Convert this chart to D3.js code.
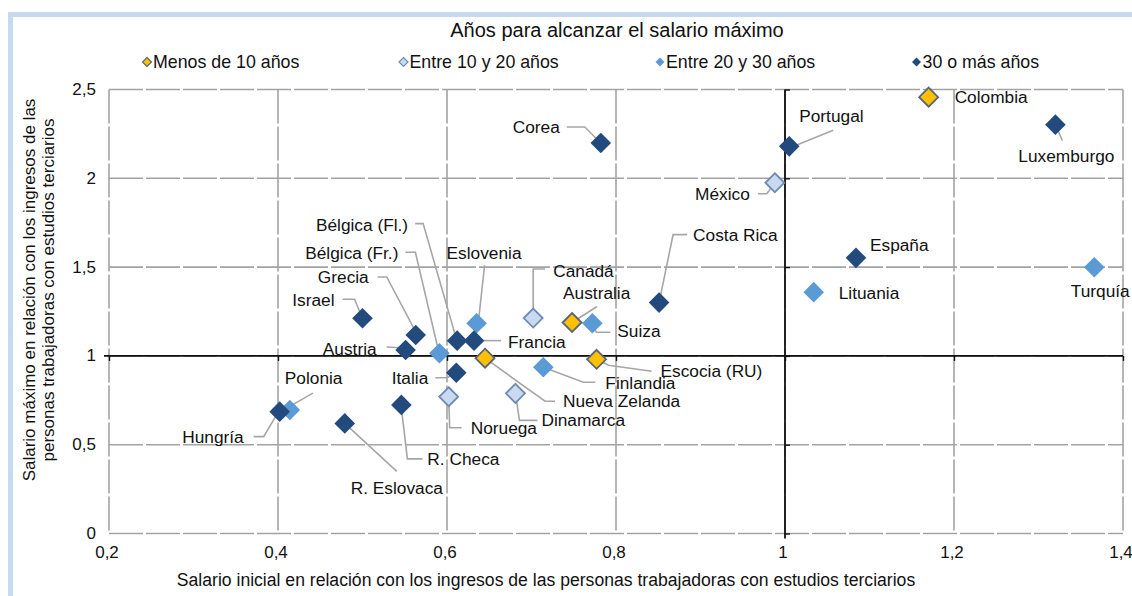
<!DOCTYPE html>
<html>
<head>
<meta charset="utf-8">
<script src="https://d3js.org/d3.v7.min.js"></script>
<style>
  body { margin: 0; background: #fff; }
  svg text { font-family: "Liberation Sans", Arial, sans-serif; fill: #111; }
</style>
</head>
<body>
<svg id="chart" width="1132" height="596"></svg>
<script>
// data
var countries = ['Colombia', 'Luxemburgo', 'Portugal', 'México', 'Corea', 'Costa Rica', 'España', 'Lituania', 'Turquía',
  'Canadá', 'Australia', 'Suiza', 'Escocia (RU)', 'Finlandia', 'Nueva Zelanda', 'Dinamarca', 'Noruega', 'Italia',
  'Francia', 'Eslovenia', 'Bélgica (Fl.)', 'Bélgica (Fr.)', 'Grecia', 'Israel', 'Austria', 'Polonia', 'Hungría',
  'R. Checa', 'R. Eslovaca'];
var startRatio = [1.17, 1.32, 1.005, 0.988, 0.782, 0.851, 1.084, 1.034, 1.366,
  0.702, 0.748, 0.772, 0.777, 0.714, 0.645, 0.681, 0.602, 0.611,
  0.632, 0.635, 0.612, 0.591, 0.563, 0.50, 0.551, 0.414, 0.402,
  0.546, 0.479];
var maxRatio = [2.457, 2.302, 2.18, 1.975, 2.199, 1.30, 1.552, 1.359, 1.499,
  1.213, 1.188, 1.184, 0.981, 0.936, 0.987, 0.789, 0.770, 0.905,
  1.086, 1.184, 1.086, 1.015, 1.118, 1.212, 1.033, 0.695, 0.686,
  0.724, 0.620];
// 0 = menos de 10, 1 = 10-20, 2 = 20-30, 3 = 30 o más
var yearGroup = [0, 3, 3, 1, 3, 3, 3, 2, 2,
  1, 0, 2, 0, 2, 0, 1, 1, 3,
  3, 2, 3, 2, 3, 3, 3, 2, 3,
  3, 3];
var groupLabels = ['Menos de 10 años', 'Entre 10 y 20 años', 'Entre 20 y 30 años', '30 o más años'];
var xTicks = [0.2, 0.4, 0.6, 0.8, 1, 1.2, 1.4];
var yTicks = [0, 0.5, 1, 1.5, 2, 2.5];

var chartTitle = 'Años para alcanzar el salario máximo';
var xTitle = 'Salario inicial en relación con los ingresos de las personas trabajadoras con estudios terciarios';
var yTitle = ['Salario máximo en relación con los ingresos de las', 'personas trabajadoras con estudios terciarios'];

// look of each group
var groupStyle = [
  {fill: '#ffc000', stroke: '#56657a'},
  {fill: '#c9daf0', stroke: '#6d8cb4'},
  {fill: '#5b9bd5', stroke: null},
  {fill: '#234a7c', stroke: null}
];

// label placement, offsets in px from the marker
var labelLayout = {
  'Colombia': {dx: 26, dy: 0, anchor: 'start'},
  'Luxemburgo': {dx: 11, dy: 31, anchor: 'middle', leader: [[0, 0], [7, 16]]},
  'Portugal': {dx: 10, dy: -30, anchor: 'start', leader: [[2, 1], [44, -16]]},
  'México': {dx: -25, dy: 11, anchor: 'end', leader: [[-17, 11], [-8, 11], [0, 0]]},
  'Corea': {dx: -41, dy: -16, anchor: 'end', leader: [[-34, -16], [-16, -16], [0, 0]]},
  'Costa Rica': {dx: 34, dy: -68, anchor: 'start', leader: [[28, -68], [14, -68], [0, 0]]},
  'España': {dx: 14, dy: -13, anchor: 'start'},
  'Lituania': {dx: 25, dy: 1, anchor: 'start'},
  'Turquía': {dx: 6, dy: 24, anchor: 'middle'},
  'Canadá': {dx: 20, dy: -47, anchor: 'start', leader: [[12, -49], [0, -49], [0, 0]]},
  'Australia': {dx: -9, dy: -30, anchor: 'start', leader: [[25, -16], [0, 0]]},
  'Suiza': {dx: 25, dy: 8, anchor: 'start', leader: [[0, 0], [4, 9], [18, 9]]},
  'Escocia (RU)': {dx: 64, dy: 12, anchor: 'start', leader: [[0, 0], [12, 6], [55, 12]]},
  'Finlandia': {dx: 62, dy: 16, anchor: 'start', leader: [[0, 0], [40, 15], [52, 15]]},
  'Nueva Zelanda': {dx: 78, dy: 43, anchor: 'start', leader: [[0, 0], [60, 43], [70, 43]]},
  'Dinamarca': {dx: 26, dy: 27, anchor: 'start', leader: [[0, 0], [4, 27], [22, 27]]},
  'Noruega': {dx: 22, dy: 31, anchor: 'start', leader: [[0, 0], [1, 31], [13, 31]]},
  'Italia': {dx: -28, dy: 5, anchor: 'end', leader: [[-21, 5], [-9, 5], [0, 0]]},
  'Francia': {dx: 34, dy: 1, anchor: 'start', leader: [[0, 0], [27, 0]]},
  'Eslovenia': {dx: -30, dy: -70, anchor: 'start', leader: [[8, -58], [2, -3]]},
  'Bélgica (Fl.)': {dx: -49, dy: -116, anchor: 'end', leader: [[-42, -117], [-34, -117], [-2, -6]]},
  'Bélgica (Fr.)': {dx: -41, dy: -100, anchor: 'end', leader: [[-34, -101], [-24, -101], [-1, -3]]},
  'Grecia': {dx: -47, dy: -58, anchor: 'end', leader: [[-38, -58], [-29, -58], [0, -3]]},
  'Israel': {dx: -28, dy: -18, anchor: 'end', leader: [[-20, -19], [-8, -19], [0, 0]]},
  'Austria': {dx: -29, dy: -1, anchor: 'end', leader: [[-19, -3], [0, -2]]},
  'Polonia': {dx: -5, dy: -32, anchor: 'start', leader: [[23, -17], [-3, -2]]},
  'Hungría': {dx: -36, dy: 25, anchor: 'end', leader: [[-26, 25], [-16, 25], [-3, 3]]},
  'R. Checa': {dx: 26, dy: 54, anchor: 'start', leader: [[21, 54], [6, 54], [0, 3]]},
  'R. Eslovaca': {dx: 6, dy: 65, anchor: 'start', leader: [[52, 48], [0, 0]]}
};

var svg = d3.select('#chart');
var margin = {left: 109, right: 10, top: 89.5, bottom: 62.5};
var W = 1132, H = 596;

var x = d3.scaleLinear().domain([0.2, 1.4]).range([margin.left, margin.left + 6 * 169]);
var y = d3.scaleLinear().domain([0, 2.5]).range([H - margin.bottom, margin.top]);

var locale = d3.formatLocale({decimal: ',', thousands: '.', grouping: [3], currency: ['', '']});
var fmt = locale.format('~g');

function diamond(r) {
  return 'M0,' + (-r) + 'L' + r + ',0L0,' + r + 'L' + (-r) + ',0Z';
}

// light blue frame of the original figure
svg.append('rect').attr('x', 8).attr('y', 12).attr('width', W).attr('height', 5).attr('fill', '#c6d9f1');
svg.append('rect').attr('x', 8).attr('y', 12).attr('width', 5).attr('height', H).attr('fill', '#c6d9f1');

// grid
var grid = svg.append('g').attr('stroke', '#a3a3a3').attr('stroke-width', 1.6).attr('stroke-dasharray', '34,3');
grid.selectAll('line.v').data(xTicks).join('line')
  .attr('x1', function(d) { return x(d); }).attr('x2', function(d) { return x(d); })
  .attr('y1', y(2.5)).attr('y2', y(0));
grid.selectAll('line.h').data(yTicks).join('line')
  .attr('class', 'h')
  .attr('x1', x(0.2)).attr('x2', x(1.4))
  .attr('y1', function(d) { return y(d); }).attr('y2', function(d) { return y(d); });

// axes crossing at (1, 1)
var xAxis = d3.axisBottom(x).tickValues(xTicks).tickSize(5).tickFormat('');
var yAxis = d3.axisRight(y).tickValues(yTicks).tickSize(5).tickFormat('');
var ax = svg.append('g').attr('transform', 'translate(0,' + y(1) + ')').call(xAxis);
var ay = svg.append('g').attr('transform', 'translate(' + x(1) + ',0)').call(yAxis);
[ax, ay].forEach(function(g) {
  g.select('.domain').remove();
  g.selectAll('line').attr('stroke', '#111').attr('stroke-width', 1.4);
});
svg.append('line').attr('x1', x(0.2) - 5).attr('x2', x(1.4)).attr('y1', y(1)).attr('y2', y(1))
  .attr('stroke', '#111').attr('stroke-width', 1.8);
svg.append('line').attr('x1', x(1)).attr('x2', x(1)).attr('y1', y(2.5)).attr('y2', y(0) + 5)
  .attr('stroke', '#111').attr('stroke-width', 1.8);

// tick labels
svg.append('g').selectAll('text').data(xTicks).join('text')
  .attr('x', function(d) { return x(d) - 2; }).attr('y', y(0) + 19)
  .attr('text-anchor', 'middle').attr('dominant-baseline', 'central')
  .style('font-size', '17px')
  .text(function(d) { return fmt(d); });
svg.append('g').selectAll('text').data(yTicks).join('text')
  .attr('x', margin.left - 13).attr('y', function(d) { return y(d); })
  .attr('text-anchor', 'end').attr('dominant-baseline', 'central')
  .style('font-size', '17px')
  .text(function(d) { return fmt(d); });

// axis titles
svg.append('text').attr('x', 546).attr('y', 580)
  .attr('text-anchor', 'middle').attr('dominant-baseline', 'central')
  .style('font-size', '17.6px').text(xTitle);
svg.append('g').attr('transform', 'translate(29,290) rotate(-90)')
  .selectAll('text').data(yTitle).join('text')
  .attr('x', 0).attr('y', function(d, i) { return i * 19; })
  .attr('text-anchor', 'middle').attr('dominant-baseline', 'central')
  .style('font-size', '17px')
  .text(function(d) { return d; });

// title and legend
svg.append('text').attr('x', 617).attr('y', 30)
  .attr('text-anchor', 'middle').attr('dominant-baseline', 'central')
  .style('font-size', '20px').text(chartTitle);

var legend = svg.append('g').selectAll('g').data(groupLabels).join('g')
  .attr('transform', function(d, i) { return 'translate(' + (147 + i * 256.5) + ',62)'; });
legend.append('path')
  .attr('d', diamond(4.5))
  .attr('fill', function(d, i) { return groupStyle[i].fill; })
  .attr('stroke', function(d, i) { return groupStyle[i].stroke || 'none'; })
  .attr('stroke-width', 1.2);
legend.append('text').attr('x', 6).attr('y', 0)
  .attr('dominant-baseline', 'central')
  .style('font-size', '17.8px')
  .text(function(d) { return d; });

// points
var points = countries.map(function(c, i) {
  return {name: c, px: x(startRatio[i]), py: y(maxRatio[i]), group: yearGroup[i], layout: labelLayout[c]};
});

var line = d3.line();
svg.append('g').selectAll('path').data(points.filter(function(p) { return p.layout.leader; })).join('path')
  .attr('d', function(p) {
    return line(p.layout.leader.map(function(q) { return [p.px + q[0], p.py + q[1]]; }));
  })
  .attr('fill', 'none').attr('stroke', '#a6a6a6').attr('stroke-width', 1.6);

// draw by group so the 30+ markers end up on top
var sorted = points.slice().sort(function(a, b) { return a.group - b.group; });
svg.append('g').selectAll('path').data(sorted).join('path')
  .attr('transform', function(p) { return 'translate(' + p.px + ',' + p.py + ')'; })
  .attr('d', function(p) { return groupStyle[p.group].stroke ? diamond(9.5) : diamond(10.3); })
  .attr('fill', function(p) { return groupStyle[p.group].fill; })
  .attr('stroke', function(p) { return groupStyle[p.group].stroke || 'none'; })
  .attr('stroke-width', 1.8);

svg.append('g').selectAll('text').data(points).join('text')
  .attr('x', function(p) { return p.px + p.layout.dx; })
  .attr('y', function(p) { return p.py + p.layout.dy; })
  .attr('text-anchor', function(p) { return p.layout.anchor; })
  .attr('dominant-baseline', 'central')
  .style('font-size', '17.3px')
  .text(function(p) { return p.name; });
</script>
</body>
</html>
